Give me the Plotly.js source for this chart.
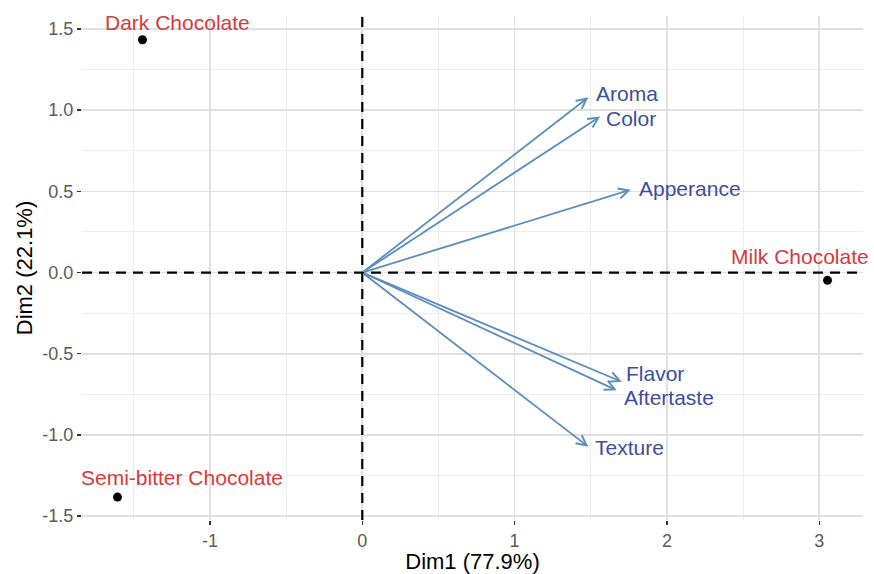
<!DOCTYPE html>
<html>
<head>
<meta charset="utf-8">
<script src="https://cdn.plot.ly/plotly-3.0.1.min.js"></script>
<style>html,body{margin:0;padding:0;background:#fff;}#chart{width:874px;height:574px;}</style>
</head>
<body>
<div id="chart"></div>
<script>
// Individuals (points)
const indNames = ['Dark Chocolate', 'Semi-bitter Chocolate', 'Milk Chocolate'];
const indX = [-1.443, -1.607, 3.054];
const indY = [1.434, -1.383, -0.048];
const indLabelX = [-1.21, -1.184, 2.872];
const indLabelY = [1.54, -1.26, 0.10];

// Variables (arrows)
const varNames = ['Aroma', 'Color', 'Apperance', 'Flavor', 'Aftertaste', 'Texture'];
const varX = [1.484, 1.561, 1.762, 1.703, 1.670, 1.484];
const varY = [1.079, 0.961, 0.510, -0.673, -0.725, -1.073];
const varLabelX = [1.736, 1.763, 2.151, 1.921, 2.011, 1.754];
const varLabelY = [1.100, 0.946, 0.516, -0.622, -0.770, -1.077];

// Axis ticks
const xTickVals = [-1, 0, 1, 2, 3];
const xTickText = ['-1', '0', '1', '2', '3'];
const xMinorVals = [-1.5, -0.5, 0.5, 1.5, 2.5];
const yTickVals = [-1.5, -1.0, -0.5, 0, 0.5, 1.0, 1.5];
const yTickText = ['-1.5', '-1.0', '-0.5', '0.0', '0.5', '1.0', '1.5'];
const yMinorVals = [-1.25, -0.75, -0.25, 0.25, 0.75, 1.25];

const FONT = 'Liberation Sans, Arial, sans-serif';
const RED = '#D63A3A';
const BLUE_TXT = '#3D4E9C';
const ARROW = '#5A8DC0';

const traces = [{
  type: 'scatter', mode: 'markers',
  x: indX, y: indY, text: indNames,
  marker: {color: '#000', size: 9},
  hoverinfo: 'text', showlegend: false
}];

const annotations = [];
varNames.forEach((n, i) => {
  annotations.push({
    x: varX[i], y: varY[i], xref: 'x', yref: 'y',
    ax: 0, ay: 0, axref: 'x', ayref: 'y',
    showarrow: true, arrowhead: 5, arrowsize: 1.1, arrowwidth: 1.8,
    arrowcolor: ARROW, standoff: 0, text: ''
  });
  annotations.push({
    x: varLabelX[i], y: varLabelY[i], xref: 'x', yref: 'y',
    text: n, showarrow: false, xanchor: 'center', yanchor: 'middle',
    font: {family: FONT, size: 21, color: BLUE_TXT}
  });
});
indNames.forEach((n, i) => {
  annotations.push({
    x: indLabelX[i], y: indLabelY[i], xref: 'x', yref: 'y',
    text: n, showarrow: false, xanchor: 'center', yanchor: 'middle',
    font: {family: FONT, size: 21, color: RED}
  });
});

const layout = {
  width: 874, height: 574,
  margin: {l: 82, r: 11, t: 16, b: 54},
  paper_bgcolor: '#fff', plot_bgcolor: '#fff',
  font: {family: FONT},
  showlegend: false,
  xaxis: {
    range: [-1.84, 3.287], zeroline: false,
    tickvals: xTickVals, ticktext: xTickText,
    ticks: 'outside', ticklen: 4, tickwidth: 1.5, tickcolor: '#333',
    tickfont: {family: FONT, size: 18, color: '#5a5a5a'},
    showgrid: true, gridcolor: '#E0E0E0', gridwidth: 1.6,
    minor: {tickvals: xMinorVals, showgrid: true, gridcolor: '#EDEDED', gridwidth: 1, ticks: ''},
    showline: false,
    title: {text: 'Dim1 (77.9%)', font: {family: FONT, size: 22, color: '#000'}, standoff: 4}
  },
  yaxis: {
    range: [-1.524, 1.58], zeroline: false,
    tickvals: yTickVals, ticktext: yTickText,
    ticks: 'outside', ticklen: 4, tickwidth: 1.5, tickcolor: '#333',
    tickfont: {family: FONT, size: 18, color: '#5a5a5a'},
    showgrid: true, gridcolor: '#E0E0E0', gridwidth: 1.6,
    minor: {tickvals: yMinorVals, showgrid: true, gridcolor: '#EDEDED', gridwidth: 1, ticks: ''},
    showline: false,
    title: {text: 'Dim2 (22.1%)', font: {family: FONT, size: 22, color: '#000'}, standoff: 3}
  },
  shapes: [
    {type: 'line', xref: 'paper', yref: 'y', x0: 0, x1: 1, y0: 0, y1: 0,
     line: {color: '#000', width: 2.2, dash: '10px,7px'}, layer: 'above'},
    {type: 'line', xref: 'x', yref: 'paper', x0: 0, x1: 0, y0: 0, y1: 1,
     line: {color: '#000', width: 2.2, dash: '10px,7px'}, layer: 'above'}
  ],
  annotations: annotations
};

Plotly.newPlot('chart', traces, layout, {displayModeBar: false, staticPlot: true});
</script>
</body>
</html>
